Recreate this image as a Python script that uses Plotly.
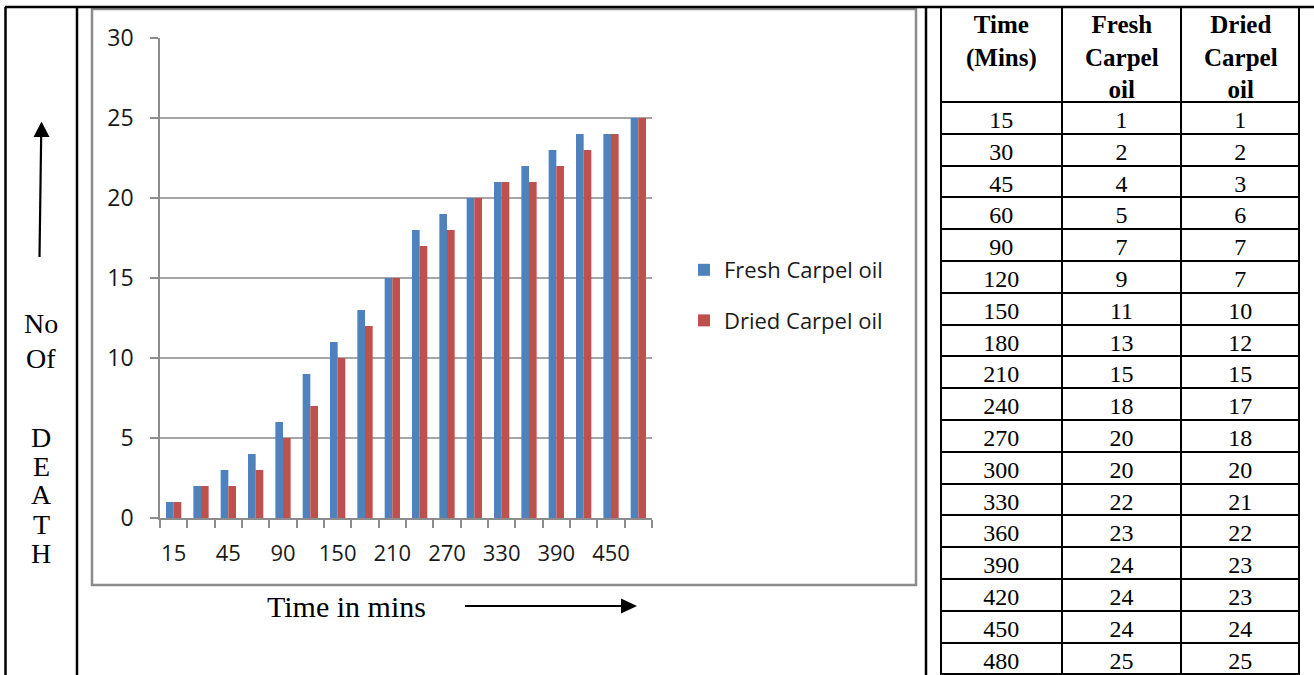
import plotly.graph_objects as go

W, H = 1314, 675

# Sampling times (minutes) used as the bar categories and table rows
times = ["15", "30", "45", "60", "90", "120", "150", "180", "210",
         "240", "270", "300", "330", "360", "390", "420", "450", "480"]

# Number of deaths plotted in the bar chart
fresh_chart = [1, 2, 3, 4, 6, 9, 11, 13, 15, 18, 19, 20, 21, 22, 23, 24, 24, 25]
dried_chart = [1, 2, 2, 3, 5, 7, 10, 12, 15, 17, 18, 20, 21, 21, 22, 23, 24, 25]

# Number of deaths listed in the side table
table_fresh = [1, 2, 4, 5, 7, 9, 11, 13, 15, 18, 20, 20, 22, 23, 24, 24, 24, 25]
table_dried = [1, 2, 3, 6, 7, 7, 10, 12, 15, 17, 18, 20, 21, 22, 23, 23, 24, 25]

series_names = ["Fresh Carpel oil", "Dried Carpel oil"]
table_headers = ["Time<br>(Mins)", "Fresh<br>Carpel<br>oil", "Dried<br>Carpel<br>oil"]
y_ticks = [0, 5, 10, 15, 20, 25, 30]

BLUE = "#4F81BD"
RED = "#C0504D"
GRID = "#A6A6A6"
FRAME = "#8C8C8C"
SANS = "Open Sans"
SERIF = "Liberation Serif"

# table geometry (pixels)
TBL_X = [941, 1062, 1182, 1300]
TBL_TOP, HEAD_H, ROW_H = 7, 95, 31.8


def px(x):
    return x / W


def py(y):
    return 1 - y / H


fig = go.Figure()

fig.add_trace(go.Bar(x=times, y=fresh_chart, name=series_names[0],
                     legendgroup="fresh",
                     marker=dict(color=BLUE, line=dict(width=0))))
fig.add_trace(go.Bar(x=times, y=dried_chart, name=series_names[1],
                     legendgroup="dried",
                     marker=dict(color=RED, line=dict(width=0))))

# Side table (header text is written as centred annotations below)
fig.add_trace(go.Table(
    domain=dict(x=[px(TBL_X[0]), px(TBL_X[-1])], y=[0, py(TBL_TOP)]),
    columnwidth=[TBL_X[i + 1] - TBL_X[i] for i in range(3)],
    header=dict(values=["", "", ""], height=HEAD_H, align="center",
                line=dict(color="black", width=2), fill=dict(color="white"),
                font=dict(family=SERIF, size=24, color="black")),
    cells=dict(values=[times, table_fresh, table_dried], height=ROW_H,
               align="center", line=dict(color="black", width=2),
               fill=dict(color="white"),
               font=dict(family=SERIF, size=24, color="black")),
))

tick_text = [t if i % 2 == 0 else "" for i, t in enumerate(times)]

shapes = []
black = dict(color="black", width=2.5)
# Page table rules
shapes.append(dict(type="line", xref="paper", yref="paper",
                   x0=px(5), x1=px(1314), y0=py(7), y1=py(7), line=black))
for xv in (5.5, 77, 926):
    shapes.append(dict(type="line", xref="paper", yref="paper",
                       x0=px(xv), x1=px(xv), y0=py(7), y1=0, line=black))
# Chart frame
shapes.append(dict(type="rect", xref="paper", yref="paper",
                   x0=px(92), x1=px(916), y0=py(9), y1=py(585),
                   line=dict(color=FRAME, width=2.5), layer="below"))
# Vertical arrow (number of deaths)
shapes.append(dict(type="line", xref="paper", yref="paper",
                   x0=px(39.5), x1=px(41.2), y0=py(257), y1=py(134),
                   line=dict(color="black", width=2.2)))
shapes.append(dict(type="path", xref="paper", yref="paper",
                   path=f"M {px(41.5)} {py(121.5)} L {px(49.5)} {py(137)} "
                        f"L {px(33.5)} {py(137)} Z",
                   fillcolor="black", line=dict(width=0)))
# Horizontal arrow (time)
shapes.append(dict(type="line", xref="paper", yref="paper",
                   x0=px(465), x1=px(624), y0=py(606), y1=py(606),
                   line=dict(color="black", width=2.2)))
shapes.append(dict(type="path", xref="paper", yref="paper",
                   path=f"M {px(637)} {py(606)} L {px(621)} {py(598.5)} "
                        f"L {px(621)} {py(613.5)} Z",
                   fillcolor="black", line=dict(width=0)))

annotations = []
side_label = [("No", 323), ("Of", 358), ("D", 437), ("E", 466),
              ("A", 495), ("T", 524), ("H", 553)]
for txt, yy in side_label:
    annotations.append(dict(text=txt, xref="paper", yref="paper",
                            x=px(41), y=py(yy), showarrow=False,
                            xanchor="center", yanchor="middle",
                            font=dict(family=SERIF, size=28, color="black")))
annotations.append(dict(text="Time in mins", xref="paper", yref="paper",
                        x=px(346), y=py(606), showarrow=False,
                        xanchor="center", yanchor="middle",
                        font=dict(family=SERIF, size=30, color="black")))
for i, head in enumerate(table_headers):
    annotations.append(dict(text=f"<b>{head}</b>", xref="paper", yref="paper",
                            x=px((TBL_X[i] + TBL_X[i + 1]) / 2), y=py(9),
                            showarrow=False, xanchor="center", yanchor="top",
                            align="center",
                            font=dict(family=SERIF, size=25, color="black")))

fig.update_layout(
    width=W, height=H, autosize=False,
    margin=dict(l=0, r=0, t=0, b=0, pad=0),
    paper_bgcolor="white", plot_bgcolor="white",
    barmode="group", bargap=0.44, bargroupgap=0,
    xaxis=dict(domain=[px(160), px(652)], type="category",
               tickmode="array", tickvals=times, ticktext=tick_text,
               tickson="boundaries", ticks="outside", ticklen=8,
               tickangle=0, automargin=False,
               tickcolor=FRAME, tickwidth=1.5, ticklabelstandoff=15,
               showline=True, linecolor=FRAME, linewidth=1.5,
               showgrid=False, zeroline=False,
               tickfont=dict(family=SANS, size=22, color="#1a1a1a")),
    yaxis=dict(domain=[py(518), py(38)], range=[0, 30],
               tickmode="array", tickvals=y_ticks, automargin=False,
               ticks="outside", ticklen=8, tickcolor=FRAME, tickwidth=1.5,
               ticklabelstandoff=12,
               showline=True, linecolor=FRAME, linewidth=1.5,
               showgrid=True, gridcolor=GRID, gridwidth=1.5,
               zeroline=False,
               tickfont=dict(family=SANS, size=23, color="#1a1a1a")),
    legend=dict(x=px(684), y=py(249), xanchor="left", yanchor="top",
                bgcolor="rgba(0,0,0,0)", borderwidth=0, itemwidth=30,
                traceorder="grouped", tracegroupgap=19,
                font=dict(family=SANS, size=22, color="#1a1a1a")),
    shapes=shapes,
    annotations=annotations,
)

fig.write_html("out.html")
